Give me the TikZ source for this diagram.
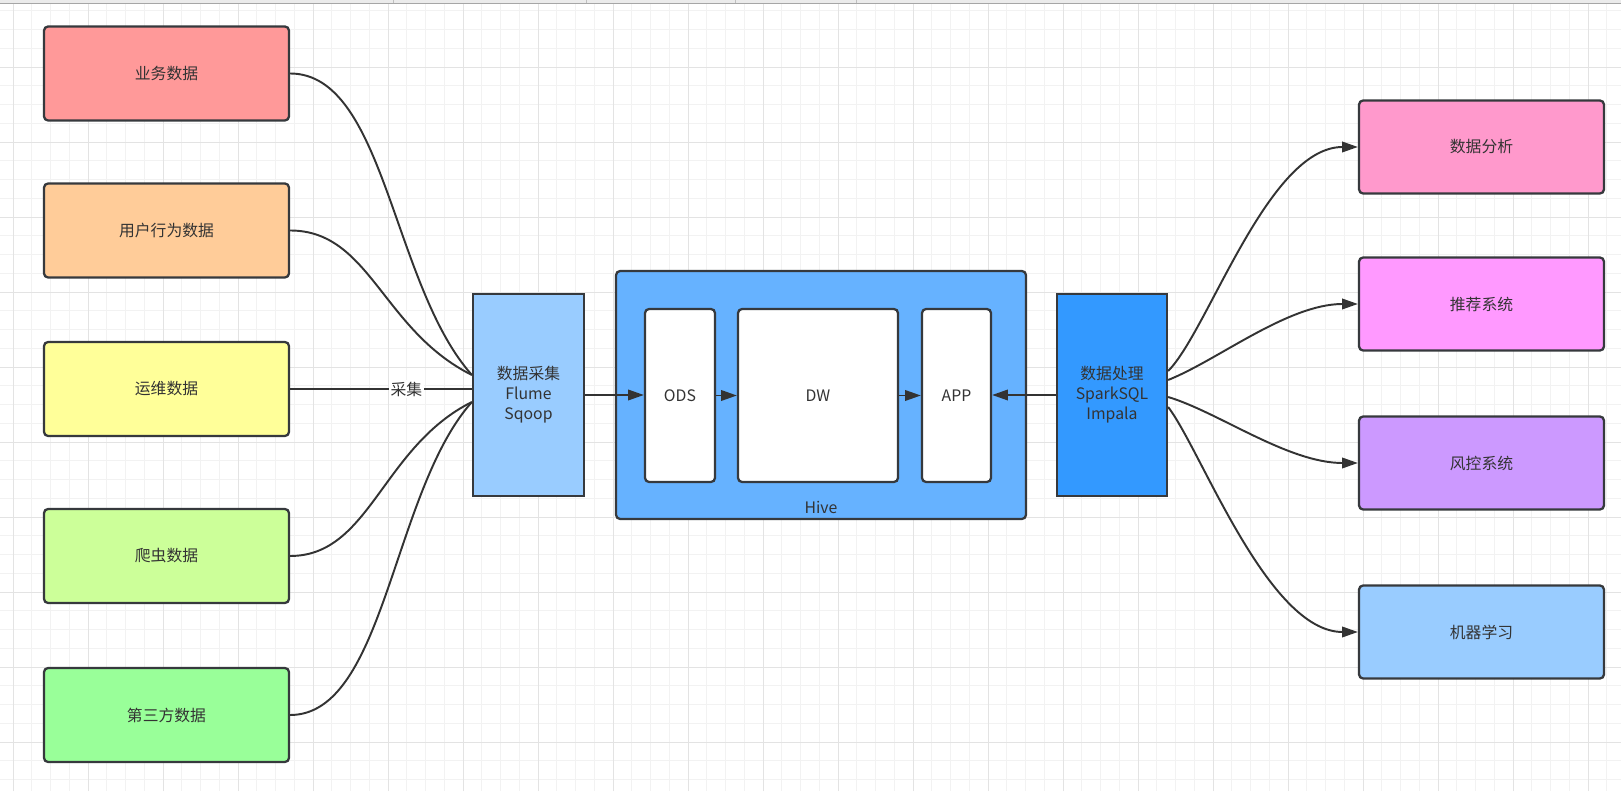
\documentclass[tikz,border=0pt]{standalone}
\usepackage{fontspec}
\setmainfont{Noto Sans CJK SC}
\usetikzlibrary{arrows.meta,calc}
\definecolor{ink}{HTML}{333333}
\definecolor{rim}{HTML}{36393D}
\definecolor{gridminor}{HTML}{F2F2F2}
\definecolor{gridmajor}{HTML}{E3E3E3}
\definecolor{cBiz}{HTML}{FF9999}
\definecolor{cUser}{HTML}{FFCC99}
\definecolor{cOps}{HTML}{FFFF99}
\definecolor{cCrawl}{HTML}{CCFF99}
\definecolor{cThird}{HTML}{99FF99}
\definecolor{cCollect}{HTML}{99CCFF}
\definecolor{cHive}{HTML}{66B2FF}
\definecolor{cProc}{HTML}{3399FF}
\definecolor{cAna}{HTML}{FF99CC}
\definecolor{cRec}{HTML}{FF99FF}
\definecolor{cRisk}{HTML}{CC99FF}
\definecolor{cML}{HTML}{99CCFF}

\begin{document}
\begin{tikzpicture}[x=0.02cm, y=0.02cm, thick,
    every node/.style={font=\fontsize{9}{11.3}\selectfont, text=ink, inner sep=0pt, align=center},
    box/.style={draw=rim, line width=1.3pt, rounded corners=2.3pt, minimum width=4.9cm, minimum height=1.88cm},
    tall/.style={draw=rim, line width=1.3pt, minimum width=2.2cm, minimum height=4.04cm},
    layer/.style={draw=rim, line width=1.3pt, rounded corners=2.3pt, fill=white, minimum height=3.46cm},
    link/.style={draw=ink, line width=1.1pt},
    arrow/.style={link, -{Triangle[length=9pt,width=6pt]}}]
      \fill[white] (0,0) rectangle (1621,791);
      \useasboundingbox (0,0) rectangle (1621,791);
      \foreach \i in {0,...,86} {
        \pgfmathsetmacro\gx{13+18.75*\i}
        \draw[gridminor, line width=0.5pt] (\gx,0) -- (\gx,787);
      }
      \foreach \i in {1,...,42} {
        \pgfmathsetmacro\gy{799-18.75*\i}
        \draw[gridminor, line width=0.5pt] (0,\gy) -- (1621,\gy);
      }
      \foreach \i in {0,...,21} {
        \pgfmathsetmacro\gx{13+75*\i}
        \draw[gridmajor, line width=0.5pt] (\gx,0) -- (\gx,787);
      }
      \foreach \i in {0,...,9} {
        \pgfmathsetmacro\gy{724-75*\i}
        \draw[gridmajor, line width=0.5pt] (0,\gy) -- (1621,\gy);
      }
      \fill[black!8] (0,787.5) rectangle (1621,791);
      \draw[black!35, line width=0.6pt] (0,787.5) -- (1621,787.5);
      \foreach \tx in {393,586,735,856} {
        \draw[black!25, line width=0.4pt] (\tx,787.5) -- (\tx,791);
      }

      \node[box, fill=cBiz] (biz) at (166.5,717.5) {业务数据};
      \node[box, fill=cUser] (user) at (166.5,560.5) {用户行为数据};
      \node[box, fill=cOps] (ops) at (166.5,402) {运维数据};
      \node[box, fill=cCrawl] (crawl) at (166.5,235) {爬虫数据};
      \node[box, fill=cThird] (third) at (166.5,76) {第三方数据};

      \node[tall, fill=cCollect, minimum width=2.22cm] (collect) at (528.5,396) {数据采集\\Flume\\Sqoop};

      \node[draw=rim, line width=1.3pt, rounded corners=2.3pt, fill=cHive,
            minimum width=8.2cm, minimum height=4.96cm] (hive) at (821,396) {};
      \node (hivename) at (821,284) {Hive};
      \node[layer, minimum width=1.4cm] (ods) at (680,395.5) {ODS};
      \node[layer, minimum width=3.2cm] (dw) at (818,395.5) {DW};
      \node[layer, minimum width=1.38cm] (app) at (956.5,395.5) {APP};

      \node[tall, fill=cProc] (proc) at (1112,396) {数据处理\\SparkSQL\\Impala};

      \node[box, fill=cAna, minimum height=1.86cm] (ana) at (1481.5,644) {数据分析};
      \node[box, fill=cRec, minimum height=1.86cm] (rec) at (1481.5,487) {推荐系统};
      \node[box, fill=cRisk, minimum height=1.86cm] (risk) at (1481.5,328) {风控系统};
      \node[box, fill=cML, minimum height=1.86cm] (ml) at (1481.5,159) {机器学习};

      \coordinate (inA) at ($(collect.west)+(0,20)$);
      \coordinate (inB) at ($(collect.west)+(0,-7)$);
      \coordinate (outA) at ($(proc.east)+(0,24)$);
      \coordinate (outB) at ($(proc.east)+(0,15)$);
      \coordinate (outC) at ($(proc.east)+(0,-2)$);
      \coordinate (outD) at ($(proc.east)+(0,-12)$);

      \draw[link] (biz.east) .. controls +(95,0) and +(-80,90) .. (inA);
      \draw[link] (user.east) .. controls +(80,0) and +(-90,45) .. (inA);
      \draw[link] (ops.east) -- node[pos=0.64, fill=white, inner sep=1pt] {采集} (ops.east -| collect.west);
      \draw[link] (crawl.east) .. controls +(80,0) and +(-90,-45) .. (inB);
      \draw[link] (third.east) .. controls +(95,0) and +(-80,-90) .. (inB);

      \draw[arrow] (collect.east) -- (collect.east -| ods.west);
      \draw[arrow] (ods.east) -- (dw.west);
      \draw[arrow] (dw.east) -- (app.west);
      \draw[arrow] (proc.west) -- (proc.west -| app.east);

      \draw[arrow] (outA) .. controls +(40,40) and +(-90,0) .. (ana.west);
      \draw[arrow] (outB) .. controls +(50,20) and +(-70,0) .. (rec.west);
      \draw[arrow] (outC) .. controls +(50,-15) and +(-70,0) .. (risk.west);
      \draw[arrow] (outD) .. controls +(33,-43) and +(-90,0) .. (ml.west);
    \end{tikzpicture}
\end{document}
